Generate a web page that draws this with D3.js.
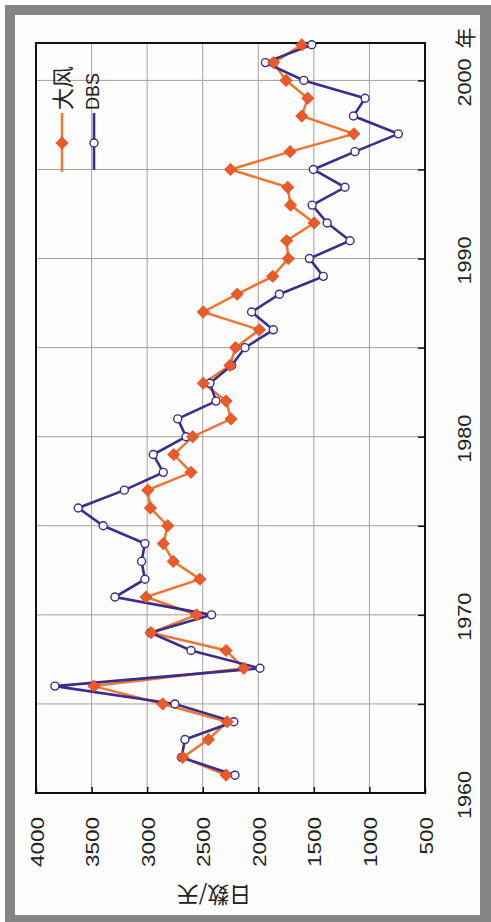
<!DOCTYPE html>
<html>
<head>
<meta charset="utf-8">
<script src="https://cdn.jsdelivr.net/npm/d3@7"></script>
<style>
  html, body { margin: 0; padding: 0; background: #ffffff; }
  svg { display: block; }
  text { font-family: "Liberation Sans", Arial, sans-serif; fill: #222; }
</style>
</head>
<body>
<svg id="chart" width="491" height="922"></svg>
<script>
// ---- data ----
const years = [1961,1962,1963,1964,1965,1966,1967,1968,1969,1970,
               1971,1972,1973,1974,1975,1976,1977,1978,1979,1980,
               1981,1982,1983,1984,1985,1986,1987,1988,1989,1990,
               1991,1992,1993,1994,1995,1996,1997,1998,1999,2000,
               2001,2002];
const galeDays = [2290,2680,2450,2280,2860,3480,2130,2290,2965,2555,
                  3010,2525,2765,2855,2815,2970,2995,2605,2760,2590,
                  2245,2290,2495,2255,2205,1990,2495,2190,1870,1730,
                  1745,1497,1710,1735,2250,1714,1140,1609,1555,1750,
                  1862,1609];
const dbsDays = [2210,2690,2660,2220,2750,3830,1985,2605,2970,2420,
                 3290,3020,3050,3020,3395,3620,3205,2855,2945,2650,
                 2725,2380,2435,2240,2120,1865,2060,1810,1415,1540,
                 1175,1380,1515,1220,1505,1130,740,1144,1039,1590,
                 1936,1519];
const valueTicks = [4000,3500,3000,2500,2000,1500,1000,500];
const yearTicks = [1965,1970,1975,1980,1985,1990,1995,2000];
const yearLabels = [1960,1970,1980,1990,2000];
const seriesNames = ["大风","DBS"];
const valueTitle = "日数/天";
const yearUnit = "年";

// ---- layout ----
const svg = d3.select("#chart");
const L = 36, R = 425, T = 43, B = 793;
const x = d3.scaleLinear().domain([4000, 500]).range([L, R]);
const y = d3.scaleLinear().domain([1960, 2002.1]).range([B, T]);

// frame
svg.append("rect").attr("x", 5).attr("y", 5).attr("width", 486).attr("height", 917).attr("fill", "#858585");
svg.append("rect").attr("x", 15).attr("y", 15).attr("width", 465).attr("height", 900).attr("fill", "#fdfdfd");

const gridColor = "#ab9f99";
// vertical grid (value)
svg.append("g").selectAll("line").data(valueTicks.slice(1, -1)).join("line")
  .attr("x1", d => x(d)).attr("x2", d => x(d)).attr("y1", T).attr("y2", B)
  .attr("stroke", gridColor).attr("stroke-width", 1);
// horizontal grid (years)
svg.append("g").selectAll("line").data(yearTicks).join("line")
  .attr("x1", L).attr("x2", R).attr("y1", d => y(d)).attr("y2", d => y(d))
  .attr("stroke", gridColor).attr("stroke-width", 1);

// bottom axis (values)
const ax = svg.append("g").attr("transform", `translate(0,${B})`)
  .call(d3.axisBottom(x).tickValues(valueTicks).tickFormat(d3.format("d"))
        .tickSizeInner(-6).tickSizeOuter(0).tickPadding(0));
ax.select(".domain").remove();
ax.selectAll(".tick line").attr("stroke", "#111").attr("stroke-width", 1.5);
ax.selectAll(".tick text")
  .attr("y", 0).attr("dy", null)
  .attr("transform", "translate(1,24) rotate(-90)")
  .attr("text-anchor", "end")
  .attr("dominant-baseline", "central")
  .attr("font-size", 18)
  .attr("fill", "#222")
  .attr("textLength", d => String(d).length * 12.5)
  .attr("lengthAdjust", "spacingAndGlyphs");

// right axis (years)
const ay = svg.append("g").attr("transform", `translate(${R},0)`)
  .call(d3.axisLeft(y).tickValues(yearTicks).tickSizeInner(7).tickSizeOuter(0).tickFormat(""));
ay.select(".domain").remove();
ay.selectAll(".tick line").attr("stroke", "#111").attr("stroke-width", 1.5);

svg.append("g").selectAll("text").data(yearLabels).join("text")
  .attr("transform", d => `translate(464,${y(d) + 2}) rotate(-90)`)
  .attr("text-anchor", "middle")
  .attr("dominant-baseline", "central")
  .attr("font-size", 19)
  .attr("textLength", 48)
  .attr("lengthAdjust", "spacingAndGlyphs")
  .text(d => d);
svg.append("text")
  .attr("transform", `translate(464,${y(2002.1) - 5}) rotate(-90)`)
  .attr("text-anchor", "middle")
  .attr("dominant-baseline", "central")
  .attr("font-size", 21)
  .style("font-family", '"Noto Sans CJK SC", sans-serif')
  .text(yearUnit);

// value title (upside down)
svg.append("text")
  .attr("transform", `translate(214,897) rotate(180)`)
  .attr("text-anchor", "middle")
  .attr("dominant-baseline", "central")
  .attr("font-size", 22)
  .style("font-family", '"Noto Sans CJK SC", sans-serif')
  .text(valueTitle);

// plot border
svg.append("rect").attr("x", L).attr("y", T).attr("width", R - L).attr("height", B - T)
  .attr("fill", "none").attr("stroke", "#111").attr("stroke-width", 2);

// series
const orangeLine = "#f0752e", orangeFill = "#ec5a2a", orangeStroke = "#d9481f";
const blue = "#3b2c8e";
const galePts = years.map((yr, i) => [yr, galeDays[i]]);
const dbsPts = years.map((yr, i) => [yr, dbsDays[i]]);
const line = d3.line().x(d => x(d[1])).y(d => y(d[0]));

svg.append("path").datum(galePts).attr("d", line)
  .attr("fill", "none").attr("stroke", orangeLine).attr("stroke-width", 2.5);
svg.append("path").datum(dbsPts).attr("d", line)
  .attr("fill", "none").attr("stroke", blue).attr("stroke-width", 2.6);

svg.append("g").selectAll("circle").data(dbsPts).join("circle")
  .attr("cx", d => x(d[1])).attr("cy", d => y(d[0])).attr("r", 4)
  .attr("fill", "#ffffff").attr("stroke", blue).attr("stroke-width", 1.4);

const diamond = d3.symbol().type(d3.symbolDiamond2).size(95);
svg.append("g").selectAll("path").data(galePts).join("path")
  .attr("transform", d => `translate(${x(d[1])},${y(d[0])})`)
  .attr("d", diamond)
  .attr("fill", orangeFill).attr("stroke", orangeStroke).attr("stroke-width", 0.8);

// legend (rotated)
const legX = [62, 94];
const leg = svg.append("g");
// gale
leg.append("line").attr("x1", legX[0]).attr("x2", legX[0]).attr("y1", 113).attr("y2", 172)
  .attr("stroke", orangeLine).attr("stroke-width", 2.5);
leg.append("path").attr("transform", `translate(${legX[0]},143)`).attr("d", diamond)
  .attr("fill", orangeFill).attr("stroke", orangeStroke).attr("stroke-width", 0.8);
leg.append("text")
  .attr("transform", `translate(${legX[0] - 1},110) rotate(-90)`)
  .attr("text-anchor", "start").attr("dominant-baseline", "central")
  .attr("font-size", 22)
  .style("font-family", '"Noto Sans CJK SC", sans-serif')
  .text(seriesNames[0]);
// dbs
leg.append("line").attr("x1", legX[1]).attr("x2", legX[1]).attr("y1", 113).attr("y2", 170)
  .attr("stroke", blue).attr("stroke-width", 2.6);
leg.append("circle").attr("cx", legX[1]).attr("cy", 143).attr("r", 4)
  .attr("fill", "#fff").attr("stroke", blue).attr("stroke-width", 1.4);
leg.append("text")
  .attr("transform", `translate(${legX[1] - 2},110) rotate(-90)`)
  .attr("text-anchor", "start").attr("dominant-baseline", "central")
  .attr("font-size", 19)
  .attr("textLength", 37).attr("lengthAdjust", "spacingAndGlyphs")
  .text(seriesNames[1]);
</script>
</body>
</html>
